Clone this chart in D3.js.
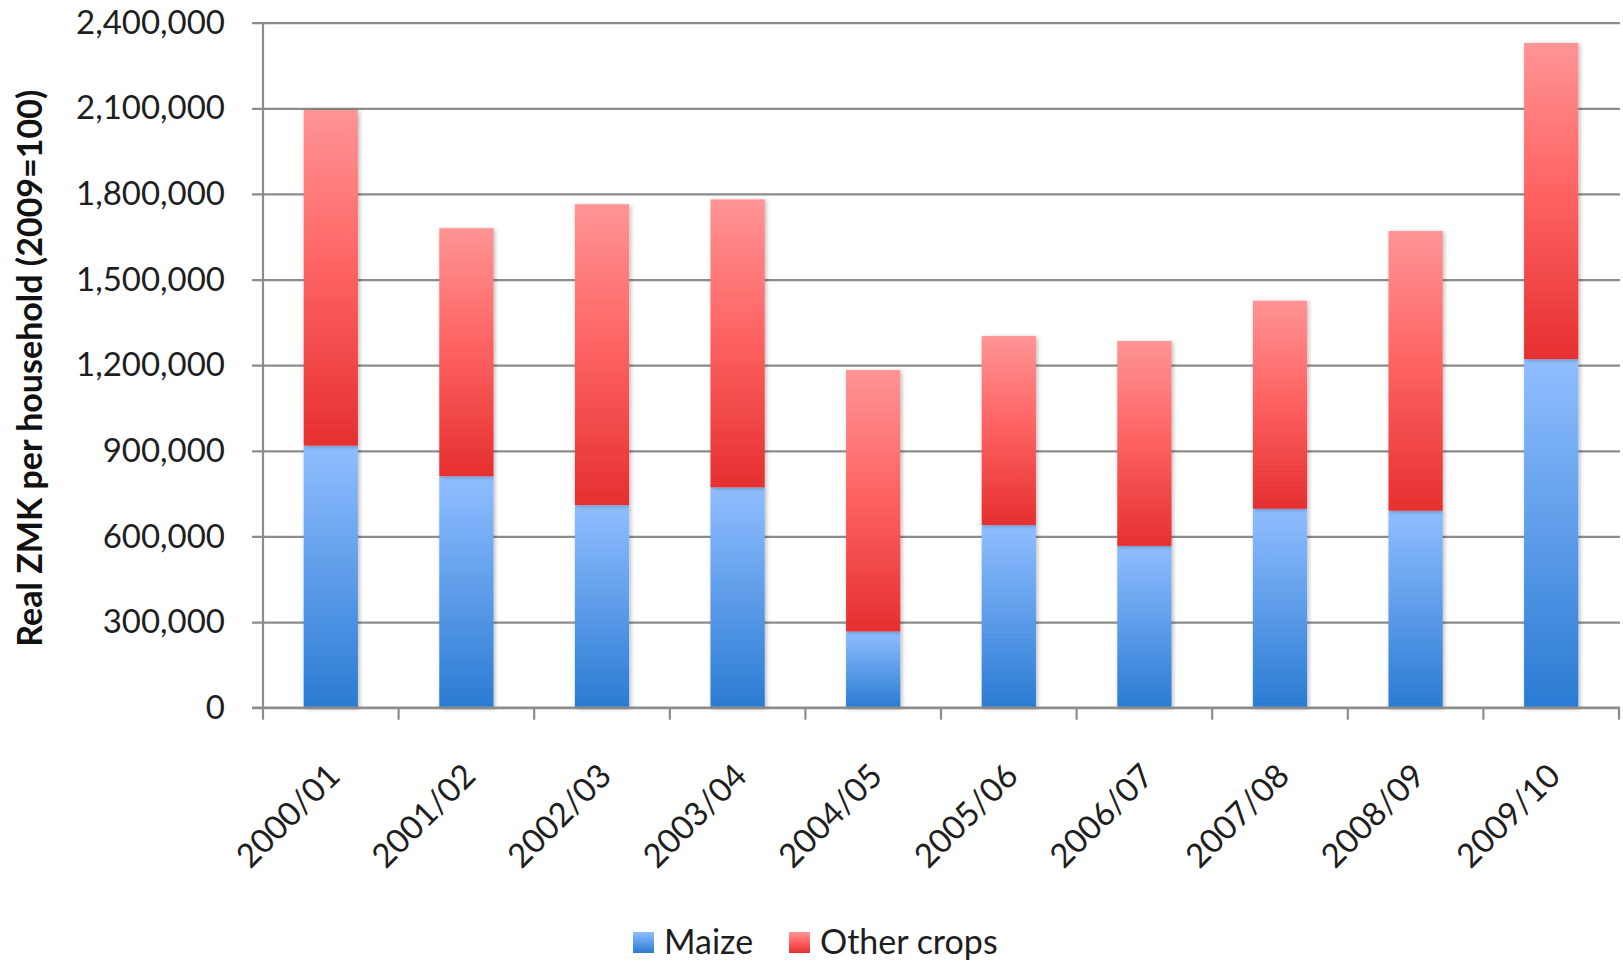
<!DOCTYPE html>
<html>
<head>
<meta charset="utf-8">
<script src="https://cdn.jsdelivr.net/npm/d3@7"></script>
<style>
  html, body { margin: 0; padding: 0; background: #fff; }
  svg { display: block; }
  svg text { font-family: Lato, "Open Sans", sans-serif; }
</style>
</head>
<body>
<svg id="chart" width="1623" height="962"></svg>
<script>
// Household crop income, real ZMK (2009=100), split into maize and other crops
const seasons = ["2000/01", "2001/02", "2002/03", "2003/04", "2004/05",
                 "2005/06", "2006/07", "2007/08", "2008/09", "2009/10"];
const maize      = [918000, 811000, 710000, 772000, 267000, 640000, 567000, 697000, 690000, 1221000];
const otherCrops = [1176000, 869000, 1054000, 1009000, 916000, 662000, 718000, 729000, 980000, 1108000];
const yTicks = [0, 300000, 600000, 900000, 1200000, 1500000, 1800000, 2100000, 2400000];
const seriesNames = ["Maize", "Other crops"];
const yTitle = "Real ZMK per household (2009=100)";

(function () {
const svg = d3.select("#chart");
const plotLeft = 263, plotRight = 1619, plotTop = 22.7, plotBottom = 707.7;
const fontFamily = "Lato, 'Open Sans', sans-serif";

const rows = seasons.map((s, i) => ({ season: s, "Maize": maize[i], "Other crops": otherCrops[i] }));
const stacked = d3.stack().keys(seriesNames)(rows);

const x = d3.scaleBand().domain(seasons).range([plotLeft, plotRight])
  .paddingInner(0.6).paddingOuter(0.3);
const y = d3.scaleLinear().domain([0, 2400000]).range([plotBottom, plotTop]);

// gradients and bar shadow
const defs = svg.append("defs");
const grads = {
  "Maize": [["0%", "#2a7bd3"], ["100%", "#90beff"]],
  "Other crops": [["0%", "#e62f2f"], ["55%", "#ff6565"], ["100%", "#ff9494"]]
};
seriesNames.forEach((name, k) => {
  const g = defs.append("linearGradient").attr("id", "grad" + k)
    .attr("x1", 0).attr("y1", 1).attr("x2", 0).attr("y2", 0);
  grads[name].forEach(([o, c]) => g.append("stop").attr("offset", o).attr("stop-color", c));
});
const shadow = defs.append("filter").attr("id", "shadow")
  .attr("x", "-30%").attr("y", "-5%").attr("width", "160%").attr("height", "110%");
shadow.append("feDropShadow").attr("dx", 1.5).attr("dy", 1).attr("stdDeviation", 2.2)
  .attr("flood-color", "#000").attr("flood-opacity", 0.28);

const gridColor = "#8c8c8c";

// y axis with gridlines
const yAxis = svg.append("g").attr("transform", `translate(${plotLeft},0)`)
  .call(d3.axisLeft(y).tickValues(yTicks).tickFormat(d3.format(",")).tickSize(-(plotRight - plotLeft)).tickPadding(38))
  .attr("font-family", fontFamily);
yAxis.select(".domain").remove();
yAxis.selectAll(".tick line").attr("x1", -11).attr("x2", plotRight - plotLeft + 1)
  .attr("stroke", gridColor).attr("stroke-width", 2.2);
yAxis.selectAll(".tick text").attr("font-size", 33).attr("fill", "#1e1e1e");

// vertical axis line
svg.append("line").attr("x1", plotLeft).attr("x2", plotLeft).attr("y1", plotTop).attr("y2", plotBottom)
  .attr("stroke", gridColor).attr("stroke-width", 2.2);

// bars
svg.append("g").selectAll("g").data(stacked).join("g")
  .attr("fill", (d, k) => `url(#grad${k})`)
  .selectAll("rect").data(d => d).join("rect")
  .attr("x", d => x(d.data.season))
  .attr("width", x.bandwidth())
  .attr("y", d => y(d[1]))
  .attr("height", d => y(d[0]) - y(d[1]))
  .attr("filter", "url(#shadow)");

// x axis: baseline, boundary ticks, rotated labels
svg.append("line").attr("x1", plotLeft - 11).attr("x2", plotRight + 1).attr("y1", plotBottom).attr("y2", plotBottom)
  .attr("stroke", gridColor).attr("stroke-width", 2.2);
svg.append("g").selectAll("line").data(d3.range(seasons.length + 1)).join("line")
  .attr("x1", i => plotLeft + i * x.step()).attr("x2", i => plotLeft + i * x.step())
  .attr("y1", plotBottom).attr("y2", plotBottom + 12)
  .attr("stroke", gridColor).attr("stroke-width", 2.2);

const xAxis = svg.append("g").attr("transform", `translate(0,${plotBottom})`)
  .call(d3.axisBottom(x).tickSize(0))
  .attr("font-family", fontFamily);
xAxis.select(".domain").remove();
xAxis.selectAll(".tick text")
  .attr("font-size", 33).attr("fill", "#1e1e1e")
  .attr("text-anchor", "end")
  .attr("x", 0).attr("y", 0).attr("dy", "0.35em")
  .attr("transform", "translate(3,62) rotate(-45)");

// y axis title
svg.append("text")
  .attr("transform", `translate(42,${(plotTop + plotBottom) / 2 + 3}) rotate(-90)`)
  .attr("text-anchor", "middle")
  .attr("font-size", 34).attr("font-weight", "bold").attr("fill", "#111")
  .text(yTitle);

// legend
const legendPos = [{ sq: 633, tx: 664 }, { sq: 789, tx: 820 }];
const legend = svg.append("g").selectAll("g").data(seriesNames).join("g");
legend.append("rect")
  .attr("x", (d, k) => legendPos[k].sq).attr("y", 932).attr("width", 21).attr("height", 21)
  .attr("fill", (d, k) => `url(#grad${k})`);
legend.append("text")
  .attr("x", (d, k) => legendPos[k].tx).attr("y", 954)
  .attr("font-size", 34).attr("fill", "#1e1e1e")
  .text(d => d);
})();
</script>
</body>
</html>
